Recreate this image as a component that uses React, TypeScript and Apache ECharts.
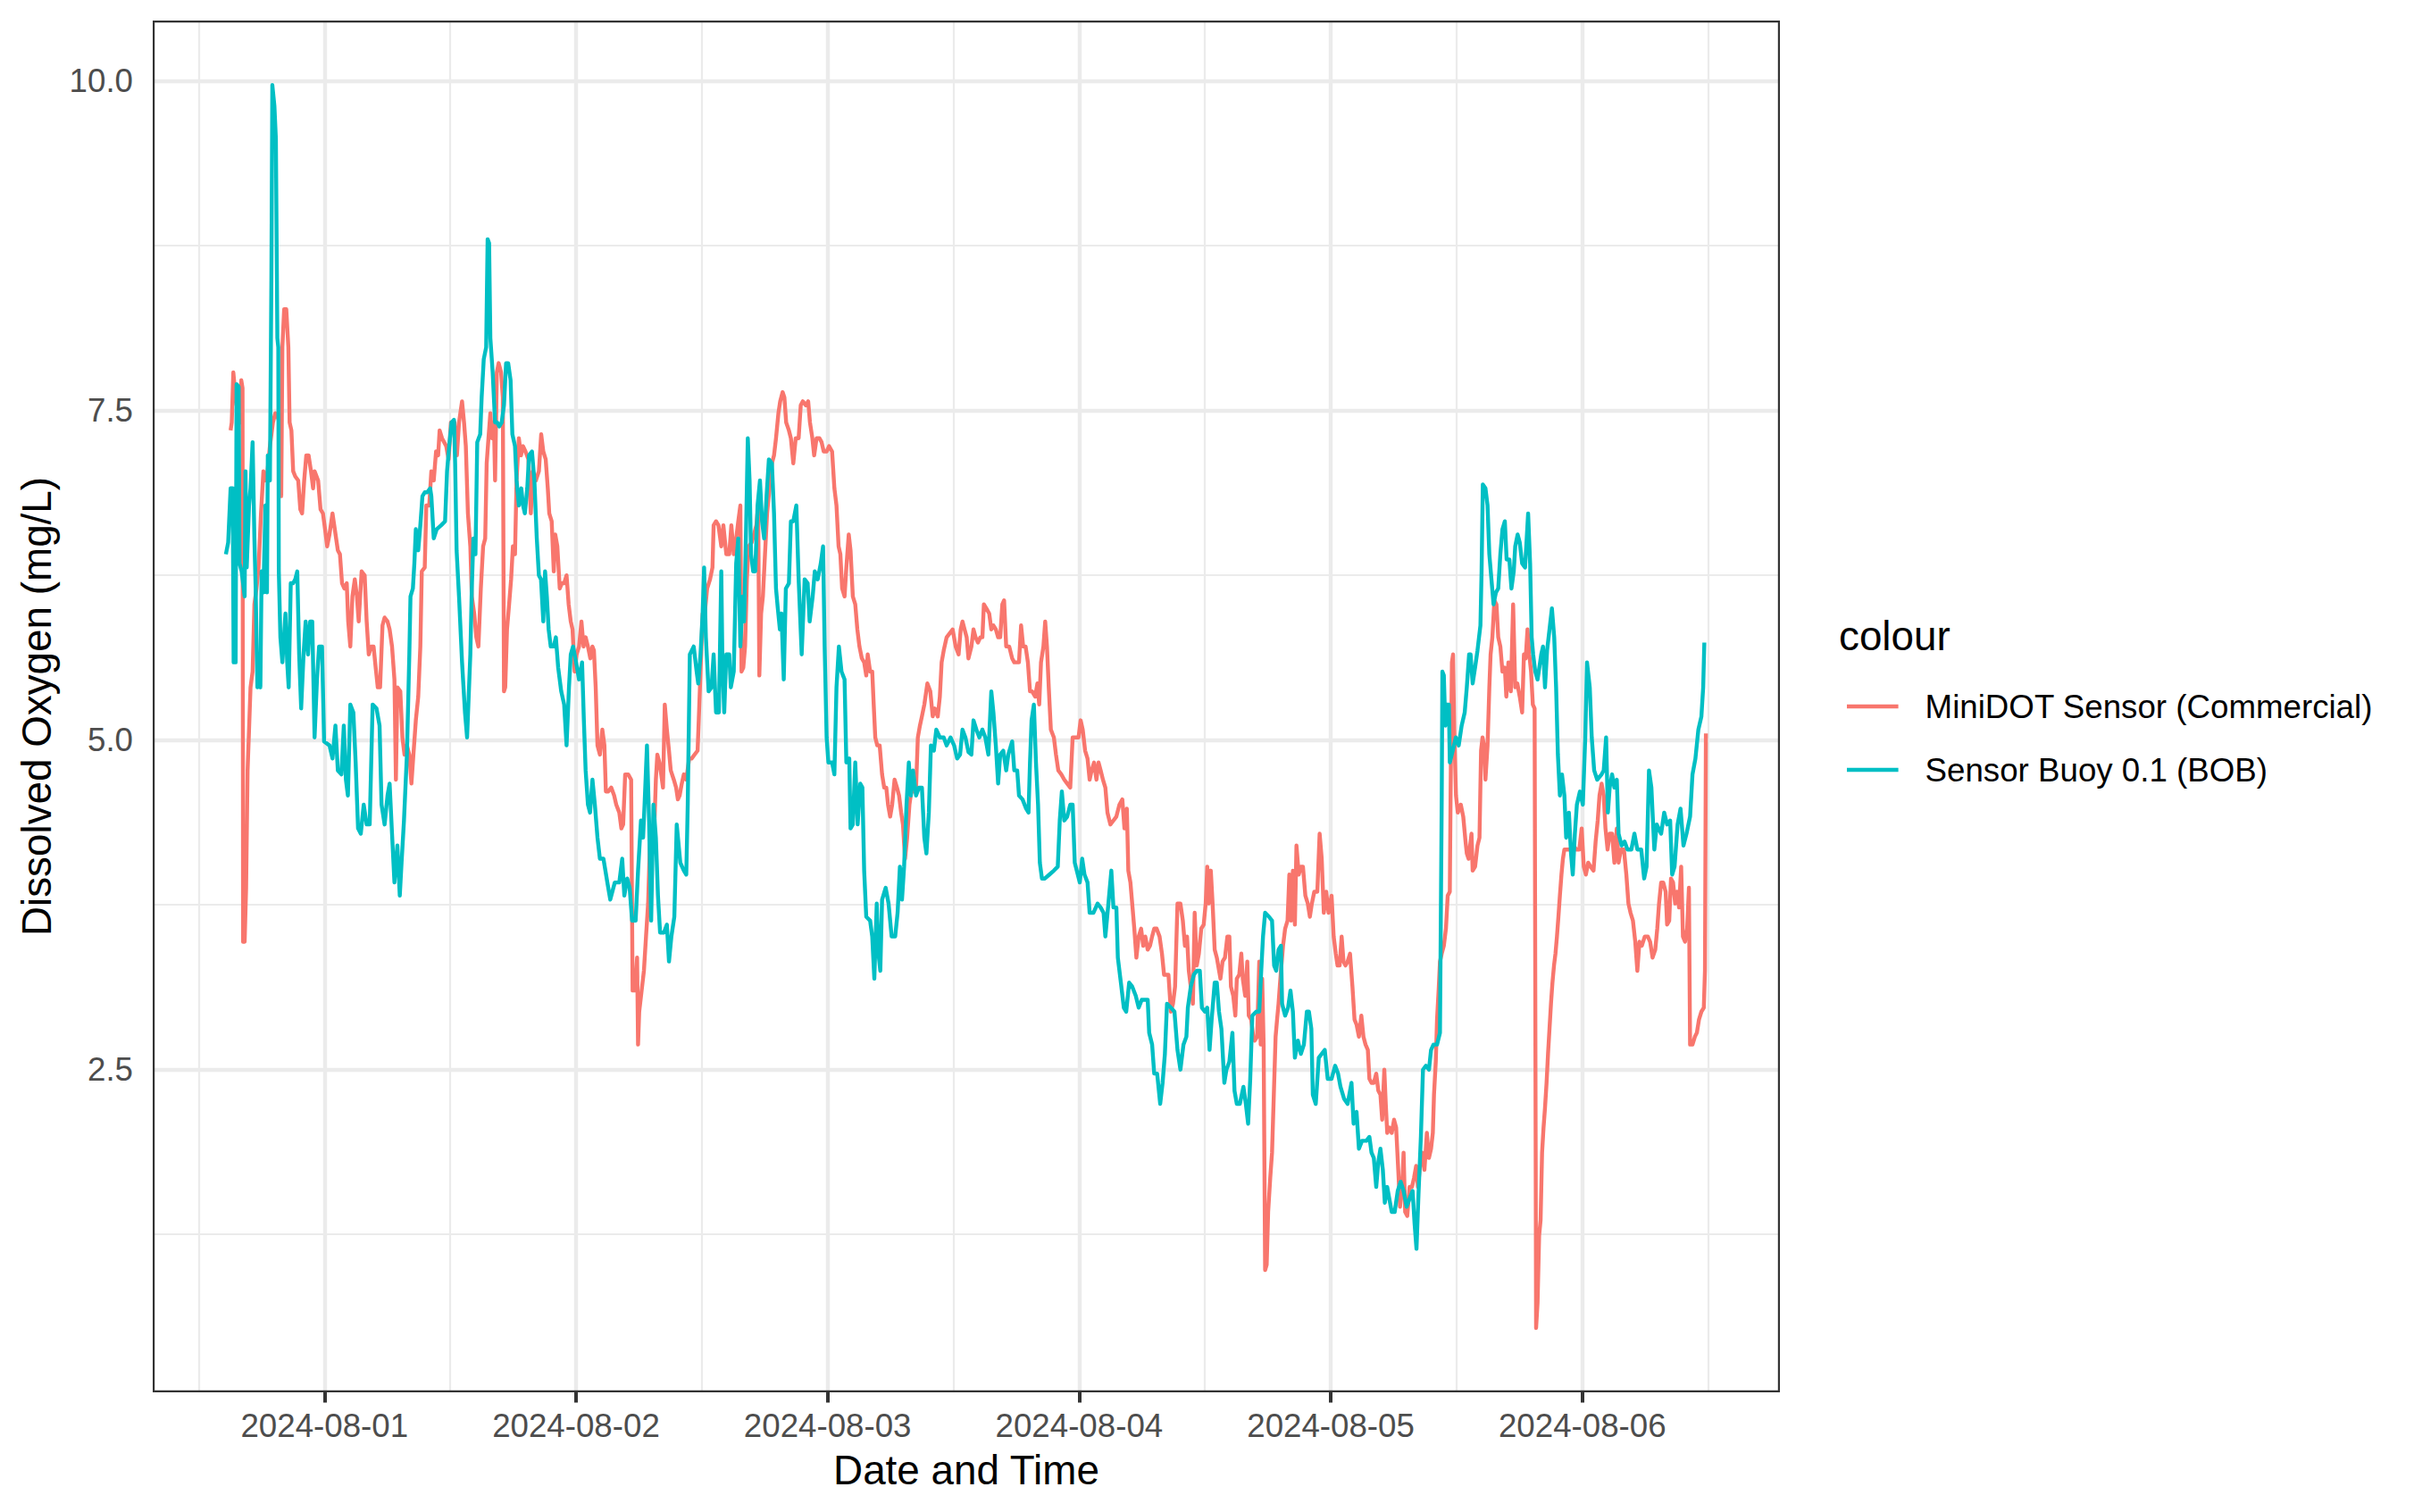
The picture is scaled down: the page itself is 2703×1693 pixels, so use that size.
import React, { useEffect, useRef } from "react";
import * as echarts from "echarts";

const seriesNames = ["MiniDOT Sensor (Commercial)", "Sensor Buoy 0.1 (BOB)"];
const seriesColors = ["#F8766D", "#00BFC4"];
const legendTitle = "colour";
const xTitle = "Date and Time";
const yTitle = "Dissolved Oxygen (mg/L)";

// hours since 2024-08-01 00:00
const miniHours = [
  -8.95, -8.84, -8.69, -8.55, -8.38, -8.21, -8.04, -7.93, -7.81, -7.76, -7.61, -7.47, -7.33, -7.19, -7.05, -6.85, -6.68, -6.48, -6.28, -6.05,
  -5.82, -5.63, -5.43, -5.2, -4.91, -4.69, -4.46, -4.26, -4.12, -4.01, -3.84, -3.64, -3.44, -3.32, -3.15, -2.98, -2.78, -2.5, -2.3, -2.13,
  -1.93, -1.73, -1.51, -1.28, -1.08, -0.94, -0.6, -0.37, -0.14, 0.06, 0.26, 0.48, 0.77, 0.99, 1.28, 1.48, 1.68, 1.9, 2.13, 2.27,
  2.47, 2.67, 2.9, 3.1, 3.27, 3.55, 3.84, 4.03, 4.23, 4.46, 4.69, 4.89, 5.09, 5.31, 5.54, 5.74, 6.02, 6.22, 6.45, 6.68,
  6.82, 6.96, 7.24, 7.44, 7.64, 7.87, 8.1, 8.3, 8.49, 8.72, 8.95, 9.15, 9.29, 9.57, 9.72, 10.0, 10.2, 10.43, 10.65, 10.85,
  10.99, 11.22, 11.42, 11.62, 11.85, 12.07, 12.41, 12.64, 12.84, 13.13, 13.32, 13.49, 13.69, 13.92, 14.06, 14.29, 14.49, 14.69, 14.92, 15.14,
  15.34, 15.48, 15.65, 15.83, 16.0, 16.17, 16.28, 16.45, 16.62, 16.85, 17.02, 17.13, 17.25, 17.42, 17.62, 17.81, 17.98, 18.18, 18.33, 18.55,
  18.75, 18.95, 19.18, 19.46, 19.69, 19.89, 20.17, 20.46, 20.68, 20.88, 21.11, 21.31, 21.45, 21.68, 21.88, 22.02, 22.22, 22.45, 22.65, 22.87,
  23.1, 23.3, 23.5, 23.67, 23.87, 24.06, 24.29, 24.52, 24.72, 24.92, 25.14, 25.37, 25.57, 25.71, 25.88, 26.05, 26.28, 26.51, 26.71, 26.85,
  27.08, 27.36, 27.64, 27.84, 28.13, 28.33, 28.5, 28.69, 28.98, 29.26, 29.4, 29.63, 29.83, 29.92, 30.03, 30.26, 30.48, 30.68, 30.88, 31.05,
  31.25, 31.45, 31.62, 31.76, 31.96, 32.13, 32.3, 32.47, 32.67, 32.87, 33.04, 33.33, 33.55, 33.72, 33.89, 34.09, 34.29, 34.52, 34.8, 35.03,
  35.31, 35.6, 35.71, 35.88, 36.08, 36.28, 36.51, 36.79, 37.02, 37.13, 37.36, 37.59, 37.86, 38.06, 38.34, 38.62, 38.82, 39.05, 39.28, 39.48,
  39.68, 39.79, 39.96, 40.13, 40.3, 40.47, 40.76, 40.98, 41.21, 41.38, 41.49, 41.66, 41.83, 42.03, 42.23, 42.46, 42.69, 42.89, 43.08, 43.31,
  43.48, 43.71, 43.88, 44.05, 44.31, 44.5, 44.73, 44.96, 45.24, 45.44, 45.64, 45.93, 46.15, 46.32, 46.55, 46.72, 46.95, 47.23, 47.43, 47.63,
  47.91, 48.14, 48.43, 48.65, 48.85, 49.05, 49.22, 49.39, 49.62, 49.79, 50.02, 50.19, 50.41, 50.64, 50.84, 51.04, 51.27, 51.49, 51.69, 51.83,
  52.06, 52.26, 52.4, 52.55, 52.74, 52.97, 53.2, 53.4, 53.6, 53.77, 53.97, 54.16, 54.39, 54.62, 54.82, 55.02, 55.19, 55.39, 55.59, 55.81,
  56.04, 56.24, 56.44, 56.61, 56.81, 57.0, 57.23, 57.52, 57.8, 58.03, 58.23, 58.51, 58.71, 58.88, 59.08, 59.36, 59.65, 59.93, 60.22, 60.5,
  60.7, 60.87, 61.07, 61.27, 61.44, 61.72, 61.92, 62.12, 62.34, 62.57, 62.77, 62.91, 63.14, 63.42, 63.62, 63.82, 64.05, 64.27, 64.47, 64.67,
  64.84, 65.04, 65.33, 65.61, 65.81, 66.04, 66.26, 66.46, 66.66, 66.89, 67.11, 67.31, 67.51, 67.8, 68.02, 68.19, 68.36, 68.59, 68.76, 68.93,
  69.1, 69.3, 69.59, 69.79, 70.01, 70.3, 70.58, 70.86, 71.15, 71.38, 71.66, 71.94, 72.14, 72.34, 72.57, 72.8, 73.0, 73.19, 73.42, 73.65,
  73.85, 74.05, 74.27, 74.5, 74.7, 74.98, 75.27, 75.55, 75.84, 76.12, 76.32, 76.55, 76.69, 76.89, 77.06, 77.26, 77.46, 77.68, 77.91, 78.11,
  78.31, 78.54, 78.76, 78.96, 79.16, 79.39, 79.67, 79.9, 80.1, 80.3, 80.52, 80.75, 80.95, 81.15, 81.38, 81.66, 81.89, 82.09, 82.29, 82.46,
  82.65, 82.85, 83.02, 83.22, 83.42, 83.65, 83.88, 84.07, 84.22, 84.36, 84.56, 84.73, 84.93, 85.13, 85.48, 85.68, 85.91, 86.14, 86.33, 86.48,
  86.7, 86.9, 87.04, 87.27, 87.47, 87.61, 87.84, 88.04, 88.18, 88.41, 88.61, 88.75, 88.98, 89.18, 89.32, 89.46, 89.6, 89.74, 89.89, 90.03,
  90.23, 90.4, 90.57, 90.74, 90.88, 91.02, 91.25, 91.45, 91.65, 91.88, 92.05, 92.22, 92.39, 92.58, 92.73, 92.95, 93.15, 93.35, 93.58, 93.81,
  94.01, 94.2, 94.43, 94.72, 94.94, 95.14, 95.34, 95.57, 95.79, 96.08, 96.28, 96.48, 96.65, 96.85, 97.04, 97.22, 97.41, 97.61, 97.84, 98.07,
  98.27, 98.47, 98.69, 98.92, 99.12, 99.32, 99.54, 99.69, 99.89, 100.11, 100.34, 100.54, 100.74, 100.91, 101.11, 101.25, 101.39, 101.59, 101.82, 102.04,
  102.24, 102.44, 102.61, 102.81, 102.95, 103.1, 103.3, 103.52, 103.75, 103.95, 104.15, 104.32, 104.52, 104.72, 104.94, 105.17, 105.37, 105.57, 105.74, 105.85,
  106.02, 106.14, 106.31, 106.42, 106.59, 106.79, 106.99, 107.16, 107.36, 107.44, 107.56, 107.67, 107.78, 107.95, 108.12, 108.41, 108.64, 108.86, 108.98, 109.15,
  109.43, 109.54, 109.77, 110.0, 110.19, 110.34, 110.48, 110.62, 110.76, 110.96, 111.13, 111.25, 111.42, 111.61, 111.81, 111.98, 112.18, 112.38, 112.61, 112.75,
  112.95, 113.18, 113.4, 113.6, 113.8, 114.03, 114.26, 114.43, 114.6, 114.77, 114.94, 115.11, 115.28, 115.45, 115.59, 115.73, 115.88, 116.02, 116.16, 116.3,
  116.44, 116.59, 116.73, 116.87, 117.01, 117.15, 117.3, 117.44, 117.58, 117.72, 117.86, 118.01, 118.15, 118.29, 118.57, 118.86, 119.14, 119.43, 119.71, 119.94,
  120.14, 120.34, 120.56, 120.79, 121.07, 121.27, 121.47, 121.64, 121.84, 122.04, 122.21, 122.41, 122.61, 122.84, 123.06, 123.29, 123.46, 123.69, 123.97, 124.2,
  124.4, 124.6, 124.83, 125.05, 125.25, 125.45, 125.68, 125.96, 126.25, 126.47, 126.7, 126.96, 127.15, 127.32, 127.52, 127.72, 127.95, 128.09, 128.29, 128.46,
  128.66, 128.86, 129.03, 129.23, 129.43, 129.6, 129.8, 130.0, 130.17, 130.28, 130.51, 130.74, 130.93, 131.13, 131.36, 131.59, 131.7, 131.79,
];
const miniValues = [
  7.35, 7.41, 7.79, 7.67, 7.54, 7.64, 7.41, 7.73, 7.67, 3.47, 3.47, 3.88, 4.77, 5.08, 5.4, 5.52, 6.03, 6.15, 6.31, 6.72,
  7.04, 6.97, 7.04, 7.23, 7.41, 7.48, 7.45, 7.41, 6.85, 7.98, 8.27, 8.27, 7.98, 7.41, 7.35, 7.04, 7.0, 6.97, 6.75, 6.72,
  6.97, 7.16, 7.16, 7.04, 6.91, 7.04, 6.97, 6.75, 6.72, 6.6, 6.47, 6.56, 6.72, 6.6, 6.44, 6.41, 6.19, 6.15, 6.19, 5.9,
  5.71, 6.09, 6.22, 6.09, 5.9, 6.28, 6.25, 5.9, 5.65, 5.71, 5.71, 5.55, 5.4, 5.4, 5.87, 5.93, 5.9, 5.84, 5.71, 5.46,
  4.7, 5.4, 5.37, 5.02, 4.89, 4.96, 4.89, 4.67, 4.89, 5.15, 5.33, 5.71, 6.28, 6.31, 6.78, 6.78, 7.04, 6.97, 7.19, 7.16,
  7.35, 7.29, 7.26, 7.23, 7.13, 7.41, 7.41, 7.16, 7.41, 7.57, 7.41, 7.23, 6.72, 6.47, 6.09, 5.96, 5.78, 5.71, 6.15, 6.47,
  6.53, 7.1, 7.29, 7.48, 7.29, 7.41, 6.97, 7.79, 7.86, 7.79, 7.6, 5.37, 5.4, 5.84, 6.03, 6.22, 6.47, 6.41, 6.97, 7.29,
  7.16, 7.23, 7.19, 7.13, 6.72, 7.04, 6.97, 7.04, 7.32, 7.19, 7.13, 6.91, 6.72, 6.66, 6.28, 6.56, 6.47, 6.15, 6.19, 6.19,
  6.25, 6.03, 5.9, 5.84, 5.52, 5.65, 5.71, 5.9, 5.71, 5.78, 5.71, 5.62, 5.71, 5.68, 5.4, 4.96, 4.89, 5.08, 4.96, 4.61,
  4.61, 4.64, 4.58, 4.51, 4.45, 4.33, 4.36, 4.74, 4.74, 4.7, 3.1, 3.1, 3.35, 2.69, 2.94, 3.1, 3.25, 3.51, 3.76, 4.2,
  4.33, 4.29, 4.7, 4.89, 4.83, 4.74, 4.64, 5.27, 5.08, 4.92, 4.77, 4.7, 4.64, 4.55, 4.58, 4.67, 4.74, 4.7, 4.86, 4.86,
  4.89, 4.92, 5.15, 5.52, 5.96, 5.96, 6.15, 6.22, 6.31, 6.63, 6.66, 6.63, 6.47, 6.63, 6.41, 6.41, 6.63, 6.41, 6.53, 6.66,
  6.78, 5.52, 5.55, 5.71, 6.22, 6.47, 6.5, 6.56, 6.63, 6.78, 5.49, 5.96, 6.09, 6.41, 6.72, 6.91, 7.1, 7.16, 7.29, 7.48,
  7.57, 7.64, 7.6, 7.41, 7.35, 7.29, 7.1, 7.29, 7.29, 7.54, 7.57, 7.54, 7.57, 7.41, 7.29, 7.16, 7.29, 7.29, 7.26, 7.19,
  7.19, 7.23, 7.19, 6.91, 6.78, 6.47, 6.41, 6.15, 6.09, 6.31, 6.56, 6.44, 6.09, 6.03, 5.84, 5.71, 5.62, 5.59, 5.49, 5.65,
  5.52, 5.52, 5.27, 5.02, 4.96, 4.96, 4.74, 4.64, 4.64, 4.51, 4.42, 4.51, 4.7, 4.64, 4.58, 4.45, 4.36, 4.1, 4.26, 4.51,
  4.64, 4.61, 4.64, 5.02, 5.11, 5.18, 5.27, 5.43, 5.37, 5.18, 5.24, 5.18, 5.33, 5.59, 5.68, 5.78, 5.81, 5.84, 5.71, 5.65,
  5.84, 5.9, 5.84, 5.78, 5.62, 5.71, 5.84, 5.78, 5.74, 5.78, 5.78, 6.03, 6.0, 5.96, 5.84, 5.87, 5.84, 5.78, 5.78, 6.03,
  6.06, 5.71, 5.71, 5.62, 5.59, 5.59, 5.59, 5.87, 5.71, 5.71, 5.59, 5.37, 5.37, 5.33, 5.43, 5.27, 5.59, 5.71, 5.9, 5.71,
  5.4, 5.08, 5.02, 4.89, 4.77, 4.74, 4.7, 4.67, 4.64, 5.02, 5.02, 5.02, 5.15, 5.08, 4.92, 4.86, 4.7, 4.77, 4.83, 4.7,
  4.83, 4.77, 4.7, 4.64, 4.45, 4.36, 4.39, 4.42, 4.51, 4.55, 4.33, 4.48, 4.01, 3.92, 3.76, 3.57, 3.35, 3.51, 3.57, 3.44,
  3.51, 3.41, 3.44, 3.51, 3.57, 3.57, 3.51, 3.38, 3.22, 3.22, 3.22, 2.94, 3.0, 3.13, 3.76, 3.76, 3.63, 3.44, 3.51, 3.25,
  3.13, 3.0, 3.69, 3.29, 3.38, 3.57, 3.6, 3.76, 4.04, 3.76, 4.01, 3.76, 3.41, 3.35, 3.19, 3.32, 3.35, 3.51, 3.51, 3.13,
  3.06, 2.91, 3.19, 3.22, 3.38, 3.19, 3.06, 3.32, 2.91, 2.88, 2.75, 2.72, 2.75, 3.32, 2.69, 3.19, 2.69, 0.98, 1.02, 1.42,
  1.68, 1.87, 2.31, 2.75, 2.88, 3.0, 3.25, 3.44, 3.57, 3.63, 3.98, 3.63, 4.01, 3.6, 4.2, 3.98, 4.04, 4.04, 3.82, 3.76,
  3.66, 3.76, 3.85, 3.85, 4.29, 4.1, 3.69, 3.85, 3.69, 3.82, 3.51, 3.38, 3.29, 3.29, 3.51, 3.32, 3.29, 3.32, 3.38, 3.13,
  2.88, 2.84, 2.75, 2.91, 2.75, 2.69, 2.65, 2.43, 2.4, 2.4, 2.47, 2.34, 2.31, 2.12, 2.5, 2.24, 2.02, 2.06, 2.02, 2.12,
  2.06, 1.74, 1.46, 1.61, 1.87, 1.42, 1.39, 1.61, 1.61, 1.68, 1.77, 1.61, 1.77, 1.87, 1.74, 2.02, 1.83, 1.9, 2.02, 2.31,
  2.56, 2.88, 3.13, 3.32, 3.38, 3.44, 3.57, 3.82, 3.85, 4.64, 5.59, 5.65, 5.08, 4.58, 4.45, 4.51, 4.42, 4.23, 4.14, 4.1,
  4.29, 4.01, 4.04, 4.2, 4.26, 4.92, 5.02, 4.96, 4.7, 4.96, 5.4, 5.65, 5.78, 6.06, 6.03, 5.78, 5.71, 5.52, 5.55, 5.33,
  5.59, 5.37, 6.03, 5.4, 5.43, 5.33, 5.21, 5.65, 5.62, 5.84, 5.65, 5.52, 5.27, 5.24, 0.54, 0.73, 1.24, 1.36, 1.87, 2.06,
  2.21, 2.4, 2.62, 2.81, 3.0, 3.16, 3.29, 3.38, 3.51, 3.66, 3.82, 3.98, 4.1, 4.17, 4.17, 4.17, 4.2, 4.17, 4.17, 4.33,
  4.04, 3.98, 4.07, 4.04, 4.01, 4.23, 4.39, 4.58, 4.67, 4.58, 4.33, 4.17, 4.29, 4.29, 4.07, 4.33, 4.07, 4.17, 4.17, 3.98,
  3.76, 3.69, 3.63, 3.47, 3.25, 3.47, 3.44, 3.51, 3.51, 3.47, 3.35, 3.41, 3.57, 3.76, 3.92, 3.92, 3.85, 3.6, 3.63, 3.95,
  3.92, 3.76, 3.85, 3.73, 4.04, 3.51, 3.47, 3.57, 3.88, 2.69, 2.69, 2.75, 2.78, 2.88, 2.94, 2.97, 3.25, 5.05,
];

const bobHours = [
  -9.4, -9.18, -8.95, -8.75, -8.66, -8.47, -8.38, -8.18, -8.1, -7.9, -7.61, -7.53, -7.41, -7.19, -7.05, -6.85, -6.68, -6.56, -6.39, -6.28,
  -6.11, -5.99, -5.82, -5.63, -5.48, -5.4, -5.2, -5.06, -4.97, -4.77, -4.63, -4.49, -4.4, -4.35, -4.2, -4.01, -3.72, -3.55, -3.41, -3.21,
  -2.98, -2.78, -2.59, -2.41, -2.22, -1.99, -1.79, -1.56, -1.36, -1.16, -0.94, -0.71, -0.51, -0.23, -0.03, 0.48, 0.77, 1.05, 1.28, 1.62,
  1.85, 2.05, 2.24, 2.47, 2.76, 2.98, 3.21, 3.47, 3.75, 4.03, 4.32, 4.6, 4.97, 5.26, 5.45, 5.74, 6.02, 6.22, 6.45, 6.68,
  6.96, 7.19, 7.36, 7.59, 7.87, 8.1, 8.21, 8.44, 8.58, 8.72, 8.95, 9.15, 9.35, 9.57, 9.8, 10.09, 10.2, 10.43, 10.71, 11.14,
  11.51, 11.7, 11.9, 12.13, 12.36, 12.47, 12.61, 12.84, 13.13, 13.41, 13.61, 13.92, 14.06, 14.21, 14.41, 14.58, 14.86, 15.0, 15.2, 15.43,
  15.57, 15.71, 15.83, 16.05, 16.28, 16.48, 16.68, 16.91, 17.13, 17.33, 17.53, 17.76, 17.93, 18.18, 18.33, 18.55, 18.78, 18.95, 19.12, 19.35,
  19.52, 19.8, 20.03, 20.26, 20.46, 20.66, 20.88, 21.05, 21.22, 21.39, 21.59, 21.88, 22.08, 22.3, 22.59, 22.87, 23.1, 23.33, 23.5, 23.72,
  24.01, 24.29, 24.58, 24.75, 24.92, 25.14, 25.34, 25.57, 25.8, 26.05, 26.28, 26.62, 26.99, 27.27, 27.7, 28.13, 28.41, 28.61, 28.89, 29.12,
  29.35, 29.69, 29.92, 30.2, 30.4, 30.54, 30.77, 30.97, 31.17, 31.39, 31.62, 31.82, 32.02, 32.39, 32.67, 32.87, 33.1, 33.38, 33.61, 33.95,
  34.29, 34.52, 34.66, 34.86, 35.23, 35.51, 35.66, 35.88, 36.08, 36.22, 36.39, 36.65, 36.93, 37.13, 37.36, 37.63, 37.86, 37.97, 38.14, 38.34,
  38.62, 38.77, 39.05, 39.28, 39.48, 39.68, 39.9, 40.04, 40.24, 40.39, 40.56, 40.7, 40.9, 41.1, 41.32, 41.55, 41.75, 41.95, 42.18, 42.4,
  42.69, 42.89, 43.08, 43.25, 43.45, 43.6, 43.82, 44.02, 44.31, 44.5, 44.73, 45.02, 45.24, 45.53, 45.81, 46.1, 46.29, 46.58, 46.78, 47.06,
  47.35, 47.57, 47.72, 47.91, 48.08, 48.43, 48.65, 48.85, 49.08, 49.33, 49.62, 49.79, 50.07, 50.19, 50.41, 50.64, 50.87, 51.12, 51.32, 51.49,
  51.69, 52.06, 52.26, 52.46, 52.69, 52.86, 53.03, 53.2, 53.54, 53.82, 54.11, 54.45, 54.68, 54.9, 55.1, 55.3, 55.53, 55.75, 55.95, 56.15,
  56.44, 56.72, 57.0, 57.23, 57.43, 57.66, 57.86, 58.14, 58.37, 58.71, 59.08, 59.36, 59.73, 60.07, 60.36, 60.64, 60.87, 61.15, 61.44, 61.72,
  61.92, 62.2, 62.48, 62.77, 63.05, 63.34, 63.62, 63.82, 64.05, 64.27, 64.47, 64.76, 65.04, 65.24, 65.61, 65.81, 66.09, 66.26, 66.6, 66.94,
  67.17, 67.31, 67.46, 67.68, 67.88, 68.08, 68.25, 68.45, 68.73, 69.16, 69.59, 69.96, 70.15, 70.35, 70.58, 70.86, 71.15, 71.38, 71.58, 71.77,
  72.06, 72.29, 72.51, 72.8, 73.0, 73.36, 73.76, 74.05, 74.33, 74.5, 74.79, 75.07, 75.27, 75.55, 75.69, 75.98, 76.26, 76.49, 76.77, 77.06,
  77.4, 77.68, 77.97, 78.54, 78.68, 78.96, 79.16, 79.44, 79.73, 79.96, 80.18, 80.38, 80.75, 81.09, 81.38, 81.66, 81.95, 82.23, 82.37, 82.65,
  82.94, 83.22, 83.51, 83.71, 83.99, 84.22, 84.44, 84.64, 84.93, 85.13, 85.34, 85.57, 85.85, 86.05, 86.33, 86.62, 86.82, 87.04, 87.33, 87.67,
  87.9, 88.12, 88.32, 88.52, 88.89, 89.18, 89.37, 89.54, 89.74, 90.11, 90.4, 90.6, 90.8, 91.02, 91.25, 91.36, 91.65, 91.93, 92.16, 92.39,
  92.58, 92.87, 93.15, 93.44, 93.72, 93.92, 94.15, 94.29, 94.57, 94.86, 95.14, 95.43, 95.71, 96.08, 96.42, 96.7, 96.93, 97.27, 97.61, 97.98,
  98.18, 98.46, 98.69, 98.98, 99.4, 99.69, 99.89, 100.11, 100.34, 100.54, 100.74, 100.97, 101.16, 101.39, 101.59, 101.82, 102.1, 102.39, 102.67, 102.95,
  103.24, 103.52, 103.81, 104.0, 104.18, 104.37, 104.6, 104.8, 105.08, 105.37, 105.57, 105.8, 106.14, 106.42, 106.5, 106.59, 106.65, 106.79, 106.93, 107.07,
  107.27, 107.36, 107.64, 107.93, 108.21, 108.49, 108.78, 108.98, 109.2, 109.34, 109.54, 109.77, 110.0, 110.28, 110.39, 110.51, 110.76, 110.96, 111.13, 111.33,
  111.53, 111.76, 111.98, 112.18, 112.38, 112.61, 112.78, 113.04, 113.24, 113.46, 113.6, 113.83, 114.03, 114.26, 114.54, 114.83, 115.02, 115.17, 115.31, 115.51,
  115.73, 115.9, 116.08, 116.25, 116.44, 116.64, 116.87, 117.1, 117.32, 117.5, 117.67, 117.86, 118.06, 118.29, 118.46, 118.72, 118.92, 119.09, 119.29, 119.48,
  119.77, 120.05, 120.28, 120.45, 120.71, 120.9, 121.13, 121.42, 121.84, 122.04, 122.27, 122.44, 122.61, 122.84, 123.06, 123.29, 123.46, 123.75, 124.03, 124.31,
  124.68, 124.97, 125.25, 125.62, 125.9, 126.13, 126.36, 126.59, 126.87, 127.1, 127.52, 127.81, 128.09, 128.38, 128.57, 128.8, 129.09, 129.37, 129.65, 129.94,
  130.28, 130.51, 130.79, 131.07, 131.36, 131.53, 131.64,
];
const bobValues = [
  6.41, 6.5, 6.91, 6.91, 5.59, 5.59, 7.7, 7.68, 6.34, 6.28, 6.09, 7.04, 6.31, 6.78, 6.91, 7.26, 6.53, 6.15, 5.4, 5.65,
  5.4, 6.28, 6.12, 6.78, 6.12, 7.16, 6.97, 8.49, 9.97, 9.81, 9.56, 8.05, 7.98, 6.28, 5.78, 5.59, 5.96, 5.59, 5.4, 6.19,
  6.19, 6.22, 6.28, 5.65, 5.24, 5.65, 5.9, 5.65, 5.9, 5.9, 5.02, 5.46, 5.71, 5.71, 4.99, 4.96, 4.86, 5.11, 4.77, 4.74,
  5.11, 4.7, 4.58, 5.27, 5.21, 4.83, 4.33, 4.29, 4.51, 4.36, 4.36, 5.27, 5.24, 5.11, 4.51, 4.36, 4.58, 4.67, 4.29, 3.92,
  4.2, 3.82, 4.07, 4.39, 4.89, 5.65, 6.09, 6.15, 6.34, 6.6, 6.44, 6.63, 6.85, 6.88, 6.88, 6.91, 6.85, 6.53, 6.6, 6.63,
  6.66, 7.04, 7.23, 7.41, 7.43, 7.1, 6.44, 6.09, 5.59, 5.21, 5.02, 5.65, 6.15, 6.53, 6.41, 7.26, 7.32, 7.6, 7.89, 7.98,
  8.8, 8.77, 8.05, 7.79, 7.41, 7.41, 7.38, 7.41, 7.54, 7.86, 7.86, 7.73, 7.32, 7.23, 6.97, 6.78, 6.91, 6.78, 6.72, 6.91,
  7.16, 7.19, 6.97, 6.53, 6.25, 6.22, 5.9, 6.28, 6.09, 5.84, 5.71, 5.71, 5.78, 5.55, 5.37, 5.27, 4.96, 5.4, 5.65, 5.71,
  5.59, 5.46, 5.59, 5.15, 4.77, 4.51, 4.45, 4.7, 4.51, 4.26, 4.1, 4.1, 3.92, 3.79, 3.92, 3.92, 4.1, 3.82, 3.95, 3.88,
  3.63, 3.63, 4.01, 4.39, 4.26, 4.51, 4.96, 4.39, 3.63, 4.51, 4.26, 3.82, 3.54, 3.54, 3.6, 3.32, 3.51, 3.66, 4.36, 4.07,
  4.01, 3.98, 4.51, 5.65, 5.71, 5.52, 5.43, 5.65, 5.96, 6.31, 5.78, 5.37, 5.4, 5.65, 5.21, 5.21, 6.28, 5.59, 5.21, 5.65,
  5.65, 5.4, 5.52, 6.34, 6.53, 5.71, 6.09, 5.9, 6.66, 7.29, 6.97, 6.41, 6.28, 6.28, 6.78, 6.97, 6.66, 6.53, 6.85, 7.13,
  7.1, 6.72, 6.15, 6.0, 5.84, 5.96, 5.46, 6.15, 6.19, 6.66, 6.66, 6.78, 6.22, 5.65, 6.22, 6.19, 5.9, 6.09, 6.28, 6.22,
  6.34, 6.47, 5.71, 5.02, 4.83, 4.83, 4.74, 5.4, 5.71, 5.52, 5.46, 4.83, 4.86, 4.33, 4.36, 4.83, 4.36, 4.67, 4.64, 4.01,
  3.66, 3.63, 3.51, 3.19, 3.76, 3.38, 3.25, 3.79, 3.88, 3.76, 3.51, 3.51, 3.69, 4.04, 3.79, 4.04, 4.51, 4.83, 4.58, 4.77,
  4.58, 4.64, 4.64, 4.26, 4.14, 4.45, 4.96, 4.92, 5.08, 5.02, 5.02, 4.96, 5.02, 4.96, 4.86, 4.89, 5.08, 5.02, 4.91, 4.89,
  5.15, 5.08, 5.02, 5.08, 5.02, 4.89, 5.37, 5.21, 4.96, 4.67, 4.89, 4.92, 4.77, 4.89, 4.99, 4.77, 4.77, 4.58, 4.55, 4.48,
  4.45, 4.83, 5.15, 5.27, 4.83, 4.51, 4.07, 3.95, 3.95, 3.98, 4.01, 4.04, 4.39, 4.61, 4.39, 4.42, 4.51, 4.51, 4.07, 4.01,
  3.92, 4.1, 3.98, 3.92, 3.69, 3.69, 3.76, 3.73, 3.69, 3.51, 3.76, 4.01, 3.73, 3.73, 3.35, 3.16, 2.97, 2.94, 3.16, 3.13,
  3.06, 2.97, 3.03, 3.03, 2.78, 2.69, 2.47, 2.47, 2.24, 2.4, 2.62, 3.0, 2.97, 2.94, 2.65, 2.5, 2.69, 2.75, 2.97, 3.13,
  3.22, 3.25, 3.25, 2.97, 2.94, 2.97, 2.65, 2.88, 3.16, 3.16, 2.94, 2.81, 2.4, 2.5, 2.56, 2.78, 2.34, 2.24, 2.24, 2.37,
  2.24, 2.09, 2.43, 2.91, 2.94, 2.94, 3.25, 3.51, 3.69, 3.66, 3.63, 3.29, 3.25, 3.41, 3.44, 3.0, 2.91, 2.97, 3.1, 2.94,
  2.59, 2.72, 2.62, 2.69, 2.94, 2.94, 2.81, 2.31, 2.24, 2.59, 2.62, 2.65, 2.43, 2.43, 2.53, 2.47, 2.37, 2.28, 2.24, 2.4,
  2.09, 2.18, 1.9, 1.96, 1.96, 1.99, 1.87, 1.83, 1.61, 1.8, 1.9, 1.74, 1.49, 1.61, 1.52, 1.42, 1.42, 1.58, 1.65, 1.58,
  1.46, 1.52, 1.58, 1.33, 1.14, 1.55, 1.99, 2.5, 2.53, 2.5, 2.65, 2.69, 2.69, 2.78, 3.63, 4.58, 5.52, 5.49, 5.11, 5.27,
  5.27, 4.83, 4.92, 5.02, 4.96, 5.11, 5.21, 5.4, 5.65, 5.65, 5.43, 5.55, 5.68, 5.87, 6.28, 6.94, 6.91, 6.78, 6.41, 6.22,
  6.03, 6.12, 6.15, 6.41, 6.6, 6.66, 6.37, 6.37, 6.15, 6.28, 6.47, 6.56, 6.5, 6.34, 6.31, 6.72, 6.34, 5.78, 5.65, 5.52,
  5.46, 5.55, 5.65, 5.71, 5.4, 5.68, 5.84, 6.0, 5.78, 5.4, 4.89, 4.58, 4.74, 4.58, 4.26, 4.45, 4.14, 3.98, 4.29, 4.51,
  4.61, 4.51, 5.02, 5.59, 5.4, 5.02, 4.77, 4.7, 4.74, 4.77, 5.02, 4.45, 4.64, 4.74, 4.64, 4.7, 4.29, 4.2, 4.23, 4.17,
  4.17, 4.29, 4.17, 4.17, 3.95, 4.04, 4.77, 4.64, 4.17, 4.36, 4.29, 4.45, 4.36, 4.39, 3.98, 4.04, 4.36, 4.48, 4.2, 4.29,
  4.42, 4.74, 4.86, 5.08, 5.18, 5.4, 5.74,
];

const xMajorHours = [0, 24, 48, 72, 96, 120];
const xMinorHours = [-12, 12, 36, 60, 84, 108, 132];
const yMajorTicks = [2.5, 5.0, 7.5, 10.0];
const yMinorTicks = [1.25, 3.75, 6.25, 8.75];
const xRange = [-16.38, 138.85];
const yRange = [0.052, 10.459];
const baseDateMs = Date.UTC(2024, 7, 1);

const FONT = "'Liberation Sans', Arial, Helvetica, sans-serif";
const W = 2703;
const H = 1693;
const GRID = { left: 171, top: 23, width: 1822, height: 1536 };

function zip(xs: number[], ys: number[]) {
  const n = Math.min(xs.length, ys.length);
  const out: number[][] = [];
  for (let i = 0; i < n; i++) out.push([xs[i], ys[i]]);
  return out;
}

function fmtDate(h: number) {
  return new Date(baseDateMs + h * 3600000).toISOString().slice(0, 10);
}

export default function App() {
  const ref = useRef<HTMLDivElement>(null);
  useEffect(() => {
    document.body.style.margin = "0";
    const chart = echarts.init(ref.current as HTMLDivElement, undefined, { renderer: "svg", width: W, height: H });
    const majorStyle = { color: "#EBEBEB", width: 4.4, type: "solid" as const };
    const minorStyle = { color: "#EBEBEB", width: 2.2, type: "solid" as const };
    const gridLines = [
      ...yMinorTicks.map((v) => ({ yAxis: v, lineStyle: minorStyle })),
      ...xMinorHours.map((v) => ({ xAxis: v, lineStyle: minorStyle })),
      ...yMajorTicks.map((v) => ({ yAxis: v, lineStyle: majorStyle })),
      ...xMajorHours.map((v) => ({ xAxis: v, lineStyle: majorStyle })),
    ];
    const option: any = {
      animation: false,
      backgroundColor: "#FFFFFF",
      textStyle: { fontFamily: FONT },
      title: {
        text: legendTitle,
        left: 2059,
        top: 689,
        padding: 0,
        textStyle: { fontSize: 45.8, fontWeight: "normal", color: "#000000", fontFamily: FONT },
      },
      legend: {
        data: seriesNames,
        orient: "vertical",
        left: 2068,
        top: 771,
        padding: 0,
        itemWidth: 57.6,
        itemHeight: 4.4,
        itemGap: 31,
        icon: "rect",
        selectedMode: false,
        textStyle: { fontSize: 36.7, color: "#000000", fontFamily: FONT, lineHeight: 40, padding: [0, 0, 0, 25] },
      },
      grid: { ...GRID, containLabel: false, show: false },
      xAxis: {
        type: "value",
        min: xRange[0],
        max: xRange[1],
        splitLine: { show: false },
        axisLine: { show: false },
        axisTick: { show: true, customValues: xMajorHours, length: 11.5, lineStyle: { color: "#333333", width: 4 } },
        axisLabel: {
          customValues: xMajorHours,
          formatter: (v: number) => fmtDate(v),
          color: "#4D4D4D",
          fontSize: 36.7,
          fontFamily: FONT,
          margin: 19,
        },
        name: xTitle,
        nameLocation: "middle",
        nameGap: 64,
        nameTextStyle: { fontSize: 45.8, color: "#000000", fontFamily: FONT },
      },
      yAxis: {
        type: "value",
        min: yRange[0],
        max: yRange[1],
        splitLine: { show: false },
        axisLine: { show: false },
        axisTick: { show: true, customValues: yMajorTicks, length: 11.5, lineStyle: { color: "#333333", width: 4 } },
        axisLabel: {
          customValues: yMajorTicks,
          formatter: (v: number) => v.toFixed(1),
          color: "#4D4D4D",
          fontSize: 36.7,
          fontFamily: FONT,
          margin: 22,
        },
        name: yTitle,
        nameLocation: "middle",
        nameRotate: 90,
        nameGap: 107,
        nameTextStyle: { fontSize: 45.8, color: "#000000", fontFamily: FONT },
      },
      graphic: [
        {
          type: "rect",
          z: 100,
          silent: true,
          shape: { x: GRID.left + 1.1, y: GRID.top + 1.1, width: GRID.width - 2.2, height: GRID.height - 2.2 },
          style: { fill: "none", stroke: "#333333", lineWidth: 2.2 },
        },
      ],
      series: [
        {
          name: "__grid",
          type: "line",
          data: [],
          silent: true,
          markLine: { z: 1, silent: true, symbol: ["none", "none"], label: { show: false }, animation: false, data: gridLines },
        },
        {
          name: seriesNames[0],
          type: "line",
          data: zip(miniHours, miniValues),
          showSymbol: false,
          symbol: "none",
          z: 2,
          silent: true,
          itemStyle: { color: seriesColors[0] },
          lineStyle: { color: seriesColors[0], width: 4.4, join: "round" },
        },
        {
          name: seriesNames[1],
          type: "line",
          data: zip(bobHours, bobValues),
          showSymbol: false,
          symbol: "none",
          z: 3,
          silent: true,
          itemStyle: { color: seriesColors[1] },
          lineStyle: { color: seriesColors[1], width: 4.4, join: "round" },
        },
      ],
    };
    chart.setOption(option);
    return () => chart.dispose();
  }, []);
  return <div ref={ref} style={{ position: "absolute", left: 0, top: 0, width: W, height: H, background: "#FFFFFF" }} />;
}
